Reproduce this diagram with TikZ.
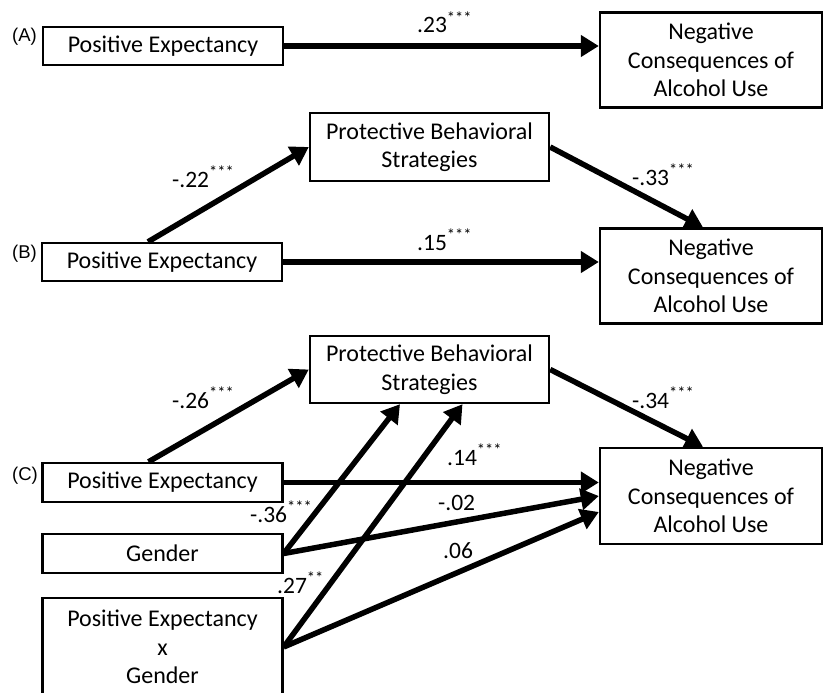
\documentclass[tikz,border=0pt]{standalone}
\usepackage{fontspec}
\setmainfont{Carlito}
\newfontfamily\panelfont{Liberation Sans}
\usetikzlibrary{arrows.meta}
\begin{document}
\begin{tikzpicture}[x=1pt,y=-1pt,
    box/.style={draw, line width=2.4pt, align=center, inner sep=0pt,
      minimum width=240pt, font=\fontsize{24}{28.5}\selectfont},
    outbox/.style={box, minimum width=222pt, minimum height=95pt},
    pbsbox/.style={box, minimum width=239pt, minimum height=68pt},
    arr/.style={line width=5.5pt, -{Triangle[length=18pt,width=21pt]}},
    lbl/.style={anchor=base west, inner sep=0pt, font=\fontsize{23.5}{24}\selectfont},
    panel/.style={anchor=base west, inner sep=0pt, font=\panelfont\fontsize{18.5}{19}\selectfont}]
  \useasboundingbox (0,0) rectangle (825,693);

  \node[box, minimum height=38pt] (peA) at (163,46) {Positive Expectancy};
  \node[outbox] (negA) at (711,60) {Negative\\Consequences of\\Alcohol Use};

  \node[pbsbox] (pbsB) at (429.5,147) {Protective Behavioral\\Strategies};
  \node[box, minimum height=38pt] (peB) at (162,262) {Positive Expectancy};
  \node[outbox] (negB) at (711,276) {Negative\\Consequences of\\Alcohol Use};

  \node[pbsbox, minimum height=67pt] (pbsC) at (429.5,369.5) {Protective Behavioral\\Strategies};
  \node[box, minimum height=39pt] (peC) at (162.5,482.5) {Positive Expectancy};
  \node[box, minimum height=39pt] (genC) at (162.5,553.5) {Gender};
  \node[box, minimum height=98pt] (pexgC) at (162.5,647) {Positive Expectancy\\x\\Gender};
  \node[outbox, minimum height=96pt] (negC) at (711,496) {Negative\\Consequences of\\Alcohol Use};

  \node[panel] (pA) at (12,42) {(A)};
  \node[panel] (pB) at (12,258) {(B)};
  \node[panel] (pC) at (12,480) {(C)};

  \draw[arr] (peA.east) -- (peA.east -| negA.west);

  \draw[arr] ([xshift=-14pt]peB.north) -- (pbsB.west);
  \draw[arr] (pbsB.east) -- ([xshift=-8pt]negB.north);
  \draw[arr] (peB.east) -- (peB.east -| negB.west);

  \draw[arr] ([xshift=-14pt]peC.north) -- (pbsC.west);
  \draw[arr] (pbsC.east) -- ([xshift=-8pt]negC.north);
  \draw[arr] (peC.east) -- (peC.east -| negC.west);
  \draw[arr] (genC.east) -- (negC.west);
  \draw[arr] (pexgC.east) -- ([yshift=-16pt]negC.west);
  \draw[arr] (genC.east) -- ([xshift=-29.5pt]pbsC.south);
  \draw[arr] (pexgC.east) -- ([xshift=33pt]pbsC.south);

  \node[lbl] (lA) at (417,33) {.23\textsuperscript{***}};
  \node[lbl] (lB1) at (172,187) {-.22\textsuperscript{***}};
  \node[lbl] (lB2) at (632,185) {-.33\textsuperscript{***}};
  \node[lbl] (lB3) at (417,250) {.15\textsuperscript{***}};
  \node[lbl] (lC1) at (172,408) {-.26\textsuperscript{***}};
  \node[lbl] (lC2) at (632,408) {-.34\textsuperscript{***}};
  \node[lbl] (lC3) at (447,465) {.14\textsuperscript{***}};
  \node[lbl] (lC4) at (438,510) {-.02};
  \node[lbl] (lC5) at (443,558) {.06};
  \node[lbl] (lC6) at (250,522) {-.36\textsuperscript{***}};
  \node[lbl] (lC7) at (277,593) {.27\textsuperscript{**}};
\end{tikzpicture}
\end{document}
